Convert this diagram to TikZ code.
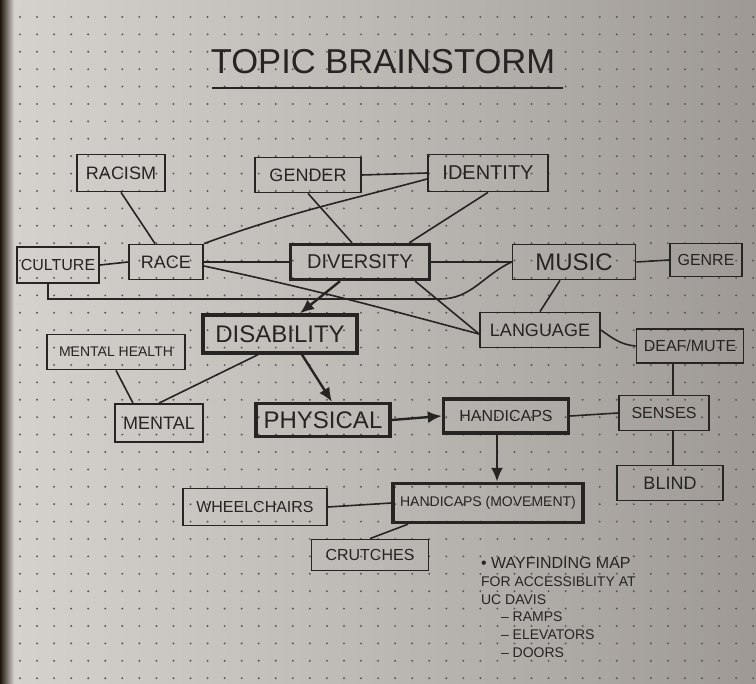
\documentclass[tikz,border=0pt]{standalone}
\usepackage{fontspec}
\setmainfont{Liberation Sans}
\usetikzlibrary{arrows.meta}

\definecolor{pen}{RGB}{38,37,36}
\definecolor{paperL}{RGB}{214,211,207}
\definecolor{paperM}{RGB}{188,185,181}
\definecolor{paperR}{RGB}{158,153,148}
\definecolor{dotc}{RGB}{92,90,88}

\tikzset{
  box/.style={draw=pen, line width=0.9pt, text=pen, inner sep=2pt},
  mainbox/.style={box, line width=1.7pt},
  dims/.style 2 args={minimum width=#1*0.5pt, minimum height=#2*0.5pt},
  link/.style={draw=pen, line width=0.8pt},
  arr/.style={link, line width=1.2pt, -{Latex[length=7pt,width=6pt]}},
}

\begin{document}
\begin{tikzpicture}[x=0.5pt,y=-0.5pt]
    % Paper
    \useasboundingbox (0,0) rectangle (756,684);
    \shade[left color=paperL, right color=paperR, middle color=paperM] (0,0) rectangle (756,684);
    \shade[left color=black!85!brown, right color=paperL] (0,0) rectangle (14,684);
    \foreach \i in {0,...,43}
      \foreach \j in {0,...,38}
        \fill[dotc] (20+17.05*\i,17+17.4*\j) circle (0.55pt);

    % Title
    \node[text=pen, font=\LARGE] (title) at (383,62) {TOPIC BRAINSTORM};
    \draw[link] (212,88) -- (563,88);

    % Top row
    \node[box, dims={88}{37}, font=\small] (racism) at (121,173) {RACISM};
    \node[box, dims={106}{35}, font=\small] (gender) at (308,175) {GENDER};
    \node[box, dims={120}{37}] (identity) at (488,173) {IDENTITY};

    % Middle row
    \node[box, dims={82}{36}, font=\footnotesize] (culture) at (58,265) {CULTURE};
    \node[box, dims={74}{35}, font=\small] (race) at (166,262) {RACE};
    \node[mainbox, dims={139}{35}] (diversity) at (360,262) {DIVERSITY};
    \node[box, dims={123}{35}, font=\large] (music) at (574,262) {MUSIC};
    \node[box, dims={72}{33}, font=\footnotesize] (genre) at (706,260) {GENRE};

    \node[mainbox, dims={154}{38}, font=\large] (disability) at (280,334) {DISABILITY};
    \node[box, dims={138}{35}, font=\scriptsize] (mhealth) at (116,352) {MENTAL HEALTH};
    \node[box, dims={120}{35}, font=\small] (language) at (540,330) {LANGUAGE};
    \node[box, dims={107}{34}, font=\footnotesize] (deaf) at (690,346) {DEAF/MUTE};

    % Lower rows
    \node[box, dims={88}{38}, font=\small] (mental) at (159,423) {MENTAL};
    \node[mainbox, dims={134}{33}, font=\large] (physical) at (323,420) {PHYSICAL};
    \node[mainbox, dims={125}{34}, font=\footnotesize] (handicaps) at (506,416) {HANDICAPS};
    \node[box, dims={90}{35}, font=\footnotesize] (senses) at (664,413) {SENSES};
    \node[box, dims={106}{35}, font=\small] (blind) at (670,483) {BLIND};

    \node[box, dims={144}{37}, font=\footnotesize] (wheel) at (255,507) {WHEELCHAIRS};
    \node[mainbox, dims={190}{39}, font=\scriptsize] (hmove) at (488,503) {HANDICAPS (MOVEMENT)};
    \node[box, dims={117}{31}, font=\footnotesize] (crutch) at (370,555) {CRUTCHES};

    % Notes
    \node[text=pen, anchor=north west, align=left, font={\scriptsize\linespread{1.12}\selectfont}] (wayfinding) at (474,550)
      {{\footnotesize\textbullet\ WAYFINDING MAP}\\ FOR ACCESSIBLITY AT\\ UC DAVIS\\
       \hspace*{10pt}-- RAMPS\\ \hspace*{10pt}-- ELEVATORS\\ \hspace*{10pt}-- DOORS};

    % Links
    \draw[link] (racism.south) -- ([xshift=-5.5pt]race.north);
    \draw[link] (culture.east) -- (race.west);
    \draw[link] (gender.east) -- (identity.west);
    \draw[link] (gender.south) -- ([xshift=-4pt]diversity.north);
    \draw[link] (race.north east) to[out=20,in=195] ([yshift=-3pt]identity.west);
    \draw[link] (identity.south) -- ([xshift=-11pt]diversity.north east);
    \draw[link] (race.east) -- (diversity.west);
    \draw[link] (diversity.east) -- (music.west);
    \draw[link] (music.east) -- (genre.west);
    \coordinate (bend) at (440,299);
    \draw[link] ([xshift=-5pt]culture.south) |- (bend) to[out=0,in=205] (music.west);
    \draw[link] ([yshift=-2pt]race.east) to[out=-12,in=165] ([yshift=-2pt]language.west);
    \draw[link] ([xshift=-8pt]diversity.south east) -- ([yshift=-2pt]language.west);
    \draw[link] ([xshift=-7pt]music.south) -- (language.north);
    \draw[link] (language.east) to[out=-35,in=175] (deaf.west);
    \draw[link] ([xshift=-11pt]disability.south) -- (mental.north);
    \draw[link] (mhealth.south) -- ([xshift=-13pt]mental.north);
    \draw[link] ([xshift=4.5pt]senses.north) -- ([xshift=4.5pt]senses.north |- deaf.south);
    \draw[link] ([xshift=4.5pt]senses.south) -- ([xshift=4.5pt]senses.south |- blind.north);
    \draw[link] (handicaps.east) -- (senses.west);
    \draw[link] (wheel.east) -- (hmove.west);
    \draw[link] (crutch.north) -- ([xshift=-40pt]hmove.south);

    % Arrows
    \draw[arr] ([xshift=-10pt]diversity.south) -- ([xshift=10pt]disability.north);
    \draw[arr] ([xshift=11pt]disability.south) -- ([xshift=4.5pt]physical.north);
    \draw[arr] (physical.east) -- (handicaps.west);
    \draw[arr] ([xshift=-4.5pt]handicaps.south) -- ([xshift=4.5pt]hmove.north);
\end{tikzpicture}
\end{document}
